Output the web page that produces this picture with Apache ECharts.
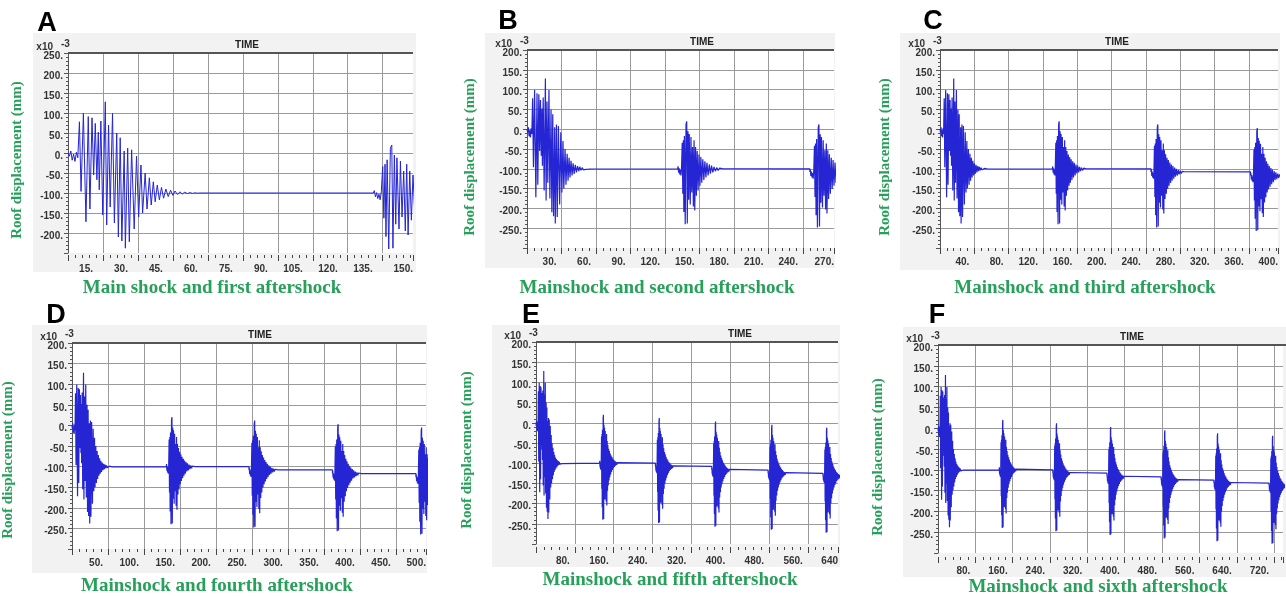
<!DOCTYPE html>
<html>
<head>
<meta charset="utf-8">
<script src="https://cdn.jsdelivr.net/npm/echarts@6/dist/echarts.min.js"></script>
<style>
html, body { margin: 0; padding: 0; background: #fff; }
#main { width: 1286px; height: 596px; }
</style>
</head>
<body>
<div id="main"></div>
<script>
// mainshock peaks (time, roof displacement x10^-3 mm)
const mainTime = [0, 0.6, 1.2, 1.8, 2.4, 3.0, 3.6, 4.2, 4.9, 5.6, 6.6, 7.7, 8.7, 9.4, 10.3, 11.0,
  11.7, 12.4, 13.0, 13.4, 14.1, 14.9, 16.0, 16.6, 17.4, 18.1, 19.1, 19.9, 20.9, 21.6, 22.4, 23.1,
  24.1, 24.6, 25.6, 26.3, 27.3, 28.4, 29.4, 30.3, 31.3, 32.0, 33.1, 33.9, 34.9, 35.7, 36.6, 37.4,
  38.3, 39.2, 40.1, 41.0, 42.0, 43.0, 44.0, 45.0, 45.9, 47.0, 48.0, 49.0, 50.1, 51.2, 52.3, 53.4,
  54.4, 55.5, 56.6];
const mainDisp = [0, -8, 5, -18, -3, -21, 2, -12, 78, -96, 99, -172, 91, -140, 88, -55,
  74, -67, 52, -92, 80, -155, 128, -180, 70, -135, 99, -175, 50, -210, 38, -220,
  5, -238, 12, -222, 8, -190, -8, -160, -30, -150, -50, -140, -62, -130, -72, -122,
  -80, -117, -86, -113, -90, -109, -93, -106, -95, -104, -97, -102.5, -98, -101.5, -99, -101,
  -99.5, -100.5, -100];

const afterTime = [0, 0.4, 0.9, 1.4, 1.9, 2.4, 2.9, 3.4, 4.0, 4.5, 5.0, 5.4, 5.9, 6.6, 7.3, 7.9,
  8.4, 9.0, 9.6, 10.1, 11.0, 11.6, 12.3, 13.0, 13.7, 14.3, 14.9, 15.6, 16.3, 17.0, 17.8, 18.6,
  19.4, 20.2, 21.0, 21.9, 22.8, 23.7, 24.6, 25.5, 26.5, 27.5, 28.5, 29.5, 30.6, 31.7, 32.8, 34.0,
  35.2, 36.4, 37.6, 38.8, 40.0];
const afterDisp = [-100, -94, -110, -99, -114, -103, -117, -97, -34, -163, -28, -209, -17, -240, 12, 20,
  -238, -5, -178, -12, -190, -20, -160, -45, -195, -28, -205, -45, -168, -55, -155, -64,
  -143, -70, -135, -76, -128, -81, -122, -85, -117, -89, -112, -92, -109, -95, -106, -97,
  -104, -98.5, -102, -99.5, -100];

// start of each shock on the record, and residual drift after each aftershock
const burstStart = [0, 131, 246, 362, 478, 591, 709];
const driftShift = [0, 0, -8, -17, -25, -32, -38];

const letters = ['A', 'B', 'C', 'D', 'E', 'F'];
const titles = ['Main shock and first aftershock', 'Mainshock and second aftershock',
  'Mainshock and third aftershock', 'Mainshock and fourth aftershock',
  'Mainshock and fifth aftershock', 'Mainshock and sixth aftershock'];
const burstCount = [2, 3, 4, 5, 6, 7];
const xStep = [15, 30, 40, 50, 80, 80];
const xMax = [148, 267, 394, 492, 622, 739];
const xEdgeLabel = ['150.', '270.', '400.', '500.', '640', ''];
const yMin = [-250, -300, -300, -300, -300, -300];
const yMax = [250, 200, 200, 200, 200, 200];

// layout of each panel: plot box [left, top, width, height], grey frame, label spots
const layout = [
  { box: [68, 53, 345, 200], frame: [33, 33, 383, 239], xOff: 2, gap: '\u2003', timeX: 247, titleXY: [212, 288], yTitleXY: [17, 160], letterXY: [47, 24] },
  { box: [527, 50, 307, 198], frame: [485, 33, 350, 235], xOff: 0, gap: '\u2002', timeX: 702, titleXY: [657, 288], yTitleXY: [470, 157], letterXY: [508, 22] },
  { box: [940, 50, 338, 198], frame: [900, 33, 380, 237], xOff: 0, gap: '\u2002', timeX: 1117, titleXY: [1085, 288], yTitleXY: [885, 157], letterXY: [933, 22] },
  { box: [72, 343, 354, 206], frame: [32, 325, 395, 248], xOff: 0, gap: '\u2002', timeX: 260, titleXY: [217, 586], yTitleXY: [8, 460], letterXY: [56, 316] },
  { box: [536, 342, 302, 202], frame: [492, 325, 348, 242], xOff: 3, gap: '\u2002', timeX: 740, titleXY: [670, 580], yTitleXY: [467, 450], letterXY: [531, 316] },
  { box: [938, 345, 348, 208], frame: [903, 327, 383, 250], xOff: 4, gap: '\u2002', timeX: 1132, titleXY: [1098, 587], yTitleXY: [878, 457], letterXY: [937, 316] }
];

const green = '#27a05a';
const gridGrey = '#9a9a9a';

function recordFor(count) {
  const pts = [];
  for (let b = 0; b < count; b++) {
    const t0 = burstStart[b];
    if (b === 0) {
      mainTime.forEach((t, k) => pts.push([t0 + t, mainDisp[k]]));
    } else {
      // keep the flat stretch at the previous residual level up to the shock
      pts.push([t0, afterDisp[0] + driftShift[b - 1]]);
      afterTime.forEach((t, k) => pts.push([t0 + t, afterDisp[k] + driftShift[b]]));
    }
  }
  return pts;
}

const grids = [], xAxes = [], yAxes = [], series = [], graphics = [];

layout.forEach((L, i) => {
  const [left, top, width, height] = L.box;
  grids.push({ left: left, top: top, width: width, height: height, show: true, backgroundColor: '#fff', borderWidth: 0 });

  xAxes.push({
    gridIndex: i, type: 'value', min: 0, max: xMax[i], interval: xStep[i], position: 'bottom', offset: L.xOff,
    axisLine: { show: false, onZero: false },
    axisTick: { show: true, length: 6, lineStyle: { color: '#444' } },
    minorTick: { show: true, splitNumber: 5, length: 3, lineStyle: { color: '#444' } },
    axisLabel: {
      margin: 9, align: 'right', fontSize: 10, fontWeight: 'bold', color: '#333', fontFamily: 'Liberation Sans',
      showMinLabel: false,
      formatter: v => (v % xStep[i] === 0 ? v + '.' + L.gap : xEdgeLabel[i])
    },
    splitLine: { show: true, showMinLine: false, showMaxLine: false, lineStyle: { color: gridGrey, width: 1 } }
  });

  yAxes.push({
    gridIndex: i, type: 'value', min: yMin[i], max: yMax[i], interval: 50,
    axisLine: { show: true, onZero: false, lineStyle: { color: '#555' } },
    axisTick: { show: true, length: 4, lineStyle: { color: '#555' } },
    minorTick: { show: true, splitNumber: 5, length: 2, lineStyle: { color: '#555' } },
    axisLabel: {
      margin: 5, fontSize: 10, fontWeight: 'bold', color: '#333', fontFamily: 'Liberation Sans',
      verticalAlign: 'top', lineHeight: 6, showMinLabel: false, formatter: v => v + '.'
    },
    splitLine: { show: true, showMinLine: false, lineStyle: { color: gridGrey, width: 1 } }
  });

  series.push({
    type: 'line', xAxisIndex: i, yAxisIndex: i, data: recordFor(burstCount[i]),
    showSymbol: false, symbol: 'none', clip: true, silent: true,
    lineStyle: { color: '#2525d4', width: i === 0 ? 1 : 1.2 }
  });

  const [fx, fy, fw, fh] = L.frame;
  graphics.push({ type: 'rect', z: -5, shape: { x: fx, y: fy, width: fw, height: fh }, style: { fill: '#f2f2f2' } });
  graphics.push({ type: 'line', z: 10, shape: { x1: left, y1: top, x2: left + width, y2: top }, style: { stroke: '#555', lineWidth: 2 } });
  graphics.push({ type: 'text', z: 10, style: { text: 'TIME', x: L.timeX, y: top - 8, textAlign: 'center', textVerticalAlign: 'middle',
    fontSize: 10, fontWeight: 'bold', fontFamily: 'Liberation Sans', fill: '#222' } });
  graphics.push({ type: 'text', z: 10, style: { text: 'x10', x: left - 15, y: top - 6, textAlign: 'right', textVerticalAlign: 'middle',
    fontSize: 10, fontWeight: 'bold', fontFamily: 'Liberation Sans', fill: '#333' } });
  graphics.push({ type: 'text', z: 10, style: { text: '-3', x: left - 7, y: top - 9, textAlign: 'left', textVerticalAlign: 'middle',
    fontSize: 10, fontWeight: 'bold', fontFamily: 'Liberation Sans', fill: '#333' } });
  graphics.push({ type: 'text', z: 10, style: { text: letters[i], x: L.letterXY[0], y: L.letterXY[1], textAlign: 'center', textVerticalAlign: 'middle',
    fontSize: 27, fontWeight: 'bold', fontFamily: 'Liberation Sans', fill: '#000' } });
  graphics.push({ type: 'text', z: 10, style: { text: titles[i], x: L.titleXY[0], y: L.titleXY[1], textAlign: 'center', textVerticalAlign: 'middle',
    fontSize: 19, fontWeight: 'bold', fontFamily: 'Liberation Serif', fill: green } });
  graphics.push({ type: 'text', z: 10, x: L.yTitleXY[0], y: L.yTitleXY[1], rotation: Math.PI / 2,
    style: { text: 'Roof displacement (mm)', x: 0, y: 0, textAlign: 'center', textVerticalAlign: 'middle',
      fontSize: 15, fontWeight: 'bold', fontFamily: 'Liberation Serif', fill: green } });
});

const chart = echarts.init(document.getElementById('main'));
chart.setOption({
  animation: false,
  backgroundColor: '#fff',
  grid: grids,
  xAxis: xAxes,
  yAxis: yAxes,
  series: series,
  graphic: graphics
});
</script>
</body>
</html>
